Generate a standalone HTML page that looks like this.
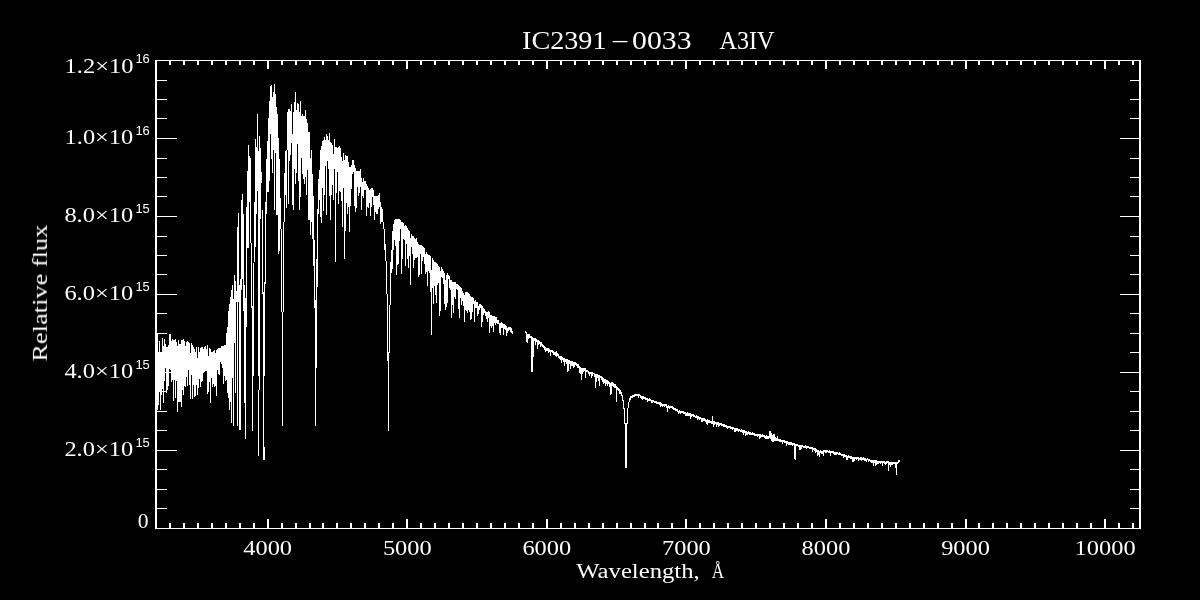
<!DOCTYPE html>
<html><head><meta charset="utf-8"><title>IC2391-0033 A3IV</title>
<style>html,body{margin:0;padding:0;background:#000;overflow:hidden}svg{display:block}text{fill:#fff}</style>
</head><body>
<svg width="1200" height="600" viewBox="0 0 1200 600">
<rect width="1200" height="600" fill="#000"/>
<path d="M155 60h2v469h-2zM1139 60h2v469h-2zM155 60h986v1h-986zM155 528h986v1h-986zM169 61h2v4h-2zM169 523h2v5h-2zM183 61h2v4h-2zM183 523h2v5h-2zM197 61h2v4h-2zM197 523h2v5h-2zM211 61h2v4h-2zM211 523h2v5h-2zM225 61h2v4h-2zM225 523h2v5h-2zM239 61h2v4h-2zM239 523h2v5h-2zM253 61h2v4h-2zM253 523h2v5h-2zM267 61h2v8h-2zM267 519h2v9h-2zM281 61h2v4h-2zM281 523h2v5h-2zM295 61h2v4h-2zM295 523h2v5h-2zM309 61h2v4h-2zM309 523h2v5h-2zM322 61h2v4h-2zM322 523h2v5h-2zM336 61h2v4h-2zM336 523h2v5h-2zM350 61h2v4h-2zM350 523h2v5h-2zM364 61h2v4h-2zM364 523h2v5h-2zM378 61h2v4h-2zM378 523h2v5h-2zM392 61h2v4h-2zM392 523h2v5h-2zM406 61h2v8h-2zM406 519h2v9h-2zM420 61h2v4h-2zM420 523h2v5h-2zM434 61h2v4h-2zM434 523h2v5h-2zM448 61h2v4h-2zM448 523h2v5h-2zM462 61h2v4h-2zM462 523h2v5h-2zM476 61h2v4h-2zM476 523h2v5h-2zM490 61h2v4h-2zM490 523h2v5h-2zM504 61h2v4h-2zM504 523h2v5h-2zM518 61h2v4h-2zM518 523h2v5h-2zM532 61h2v4h-2zM532 523h2v5h-2zM546 61h2v8h-2zM546 519h2v9h-2zM560 61h2v4h-2zM560 523h2v5h-2zM574 61h2v4h-2zM574 523h2v5h-2zM588 61h2v4h-2zM588 523h2v5h-2zM602 61h2v4h-2zM602 523h2v5h-2zM616 61h2v4h-2zM616 523h2v5h-2zM630 61h2v4h-2zM630 523h2v5h-2zM644 61h2v4h-2zM644 523h2v5h-2zM657 61h2v4h-2zM657 523h2v5h-2zM671 61h2v4h-2zM671 523h2v5h-2zM685 61h2v8h-2zM685 519h2v9h-2zM699 61h2v4h-2zM699 523h2v5h-2zM713 61h2v4h-2zM713 523h2v5h-2zM727 61h2v4h-2zM727 523h2v5h-2zM741 61h2v4h-2zM741 523h2v5h-2zM755 61h2v4h-2zM755 523h2v5h-2zM769 61h2v4h-2zM769 523h2v5h-2zM783 61h2v4h-2zM783 523h2v5h-2zM797 61h2v4h-2zM797 523h2v5h-2zM811 61h2v4h-2zM811 523h2v5h-2zM825 61h2v8h-2zM825 519h2v9h-2zM839 61h2v4h-2zM839 523h2v5h-2zM853 61h2v4h-2zM853 523h2v5h-2zM867 61h2v4h-2zM867 523h2v5h-2zM881 61h2v4h-2zM881 523h2v5h-2zM895 61h2v4h-2zM895 523h2v5h-2zM909 61h2v4h-2zM909 523h2v5h-2zM923 61h2v4h-2zM923 523h2v5h-2zM937 61h2v4h-2zM937 523h2v5h-2zM951 61h2v4h-2zM951 523h2v5h-2zM965 61h2v8h-2zM965 519h2v9h-2zM978 61h2v4h-2zM978 523h2v5h-2zM992 61h2v4h-2zM992 523h2v5h-2zM1006 61h2v4h-2zM1006 523h2v5h-2zM1020 61h2v4h-2zM1020 523h2v5h-2zM1034 61h2v4h-2zM1034 523h2v5h-2zM1048 61h2v4h-2zM1048 523h2v5h-2zM1062 61h2v4h-2zM1062 523h2v5h-2zM1076 61h2v4h-2zM1076 523h2v5h-2zM1090 61h2v4h-2zM1090 523h2v5h-2zM1104 61h2v8h-2zM1104 519h2v9h-2zM1118 61h2v4h-2zM1118 523h2v5h-2zM1132 61h2v4h-2zM1132 523h2v5h-2zM157 508h10v1h-10zM1130 508h9v1h-9zM157 489h10v1h-10zM1130 489h9v1h-9zM157 469h10v1h-10zM1130 469h9v1h-9zM157 450h20v1h-20zM1120 450h19v1h-19zM157 430h10v1h-10zM1130 430h9v1h-9zM157 411h10v1h-10zM1130 411h9v1h-9zM157 391h10v1h-10zM1130 391h9v1h-9zM157 372h20v1h-20zM1120 372h19v1h-19zM157 352h10v1h-10zM1130 352h9v1h-9zM157 333h10v1h-10zM1130 333h9v1h-9zM157 313h10v1h-10zM1130 313h9v1h-9zM157 294h20v1h-20zM1120 294h19v1h-19zM157 274h10v1h-10zM1130 274h9v1h-9zM157 255h10v1h-10zM1130 255h9v1h-9zM157 236h10v1h-10zM1130 236h9v1h-9zM157 216h20v1h-20zM1120 216h19v1h-19zM157 196h10v1h-10zM1130 196h9v1h-9zM157 177h10v1h-10zM1130 177h9v1h-9zM157 158h10v1h-10zM1130 158h9v1h-9zM157 138h20v1h-20zM1120 138h19v1h-19zM157 118h10v1h-10zM1130 118h9v1h-9zM157 99h10v1h-10zM1130 99h9v1h-9zM157 80h10v1h-10zM1130 80h9v1h-9z" fill="#fff" shape-rendering="crispEdges"/>
<path d="M258.5 390V456M264.5 447V460M157.5 334V410M158.5 352V405M159.5 341V392M160.5 352V410M161.5 352V395M162.5 338V389M163.5 346V403M164.5 339V381M165.5 344V368M166.5 347V393M167.5 347V390M168.5 345V386M169.5 334V369M170.5 334V370M171.5 341V382M172.5 339V380M173.5 340V401M174.5 340V380M175.5 339V398M176.5 342V381M177.5 346V412M178.5 340V402M179.5 344V402M180.5 344V402M181.5 340V407M182.5 340V390M183.5 339V395M184.5 341V386M185.5 346V387M186.5 342V377M187.5 341V386M188.5 342V370M189.5 343V385M190.5 353V399M191.5 343V375M192.5 345V399M193.5 347V385M194.5 349V397M195.5 352V396M196.5 347V385M197.5 358V395M198.5 347V388M199.5 352V379M200.5 348V387M201.5 347V382M202.5 347V381M203.5 349V373M204.5 347V372M205.5 346V371M206.5 349V371M207.5 345V394M208.5 356V392M209.5 348V382M210.5 349V403M211.5 352V378M212.5 352V387M213.5 351V384M214.5 350V387M215.5 353V386M216.5 350V396M217.5 349V370M218.5 348V374M219.5 348V375M220.5 348V362M221.5 346V364M222.5 346V368M223.5 346V384M224.5 345V376M225.5 345V381M226.5 333V380M227.5 327V393M228.5 311V398M229.5 304V410M230.5 297V402M231.5 290V423M232.5 285V378M233.5 299V426M234.5 275V343M235.5 281V393M236.5 291V302M237.5 227V426M238.5 213V302M239.5 285V430M240.5 279V430M241.5 200V290M242.5 194V279M243.5 214V311M244.5 285V403M245.5 298V439M246.5 207V327M247.5 171V248M248.5 145V248M249.5 156V202M250.5 158V243M251.5 243V308M252.5 306V431M253.5 263V376M254.5 202V262M255.5 139V247M256.5 147V214M257.5 114V191M258.5 151V376M259.5 136V390M260.5 148V219M261.5 172V183M262.5 210V294M263.5 292V460M264.5 282V376M265.5 202V284M266.5 159V214M267.5 141V192M268.5 118V192M269.5 101V181M270.5 86V134M271.5 85V159M272.5 97V173M273.5 92V150M274.5 84V210M275.5 94V153M276.5 107V215M277.5 114V215M278.5 138V254M279.5 159V251M280.5 198V229M281.5 229V312M282.5 312V426M283.5 222V312M284.5 173V222M285.5 151V195M286.5 150V208M287.5 112V150M288.5 109V204M289.5 109V161M290.5 111V155M291.5 104V143M292.5 134V205M293.5 112V210M294.5 102V169M295.5 92V184M296.5 110V173M297.5 103V144M298.5 104V181M299.5 112V210M300.5 101V197M301.5 116V158M302.5 114V174M303.5 116V179M304.5 116V184M305.5 110V177M306.5 119V195M307.5 123V170M308.5 132V220M309.5 132V220M310.5 158V235M311.5 150V222M312.5 174V239M313.5 196V266M314.5 240V308M315.5 300V426M316.5 259V368M317.5 209V287M318.5 179V214M319.5 170V200M320.5 150V217M321.5 146V223M322.5 141V188M323.5 140V211M324.5 137V195M325.5 140V166M326.5 134V215M327.5 136V161M328.5 140V169M329.5 133V196M330.5 142V220M331.5 143V195M332.5 145V185M333.5 154V200M334.5 139V169M335.5 147V262M336.5 147V193M337.5 148V172M338.5 147V204M339.5 146V191M340.5 148V192M341.5 157V201M342.5 161V227M343.5 153V188M344.5 160V259M345.5 155V231M346.5 156V203M347.5 156V214M348.5 162V207M349.5 167V232M350.5 167V206M351.5 165V189M352.5 160V174M353.5 160V172M354.5 165V206M355.5 168V212M356.5 171V208M357.5 171V187M358.5 171V196M359.5 171V193M360.5 169V187M361.5 178V210M362.5 182V196M363.5 178V198M364.5 181V190M365.5 181V190M366.5 184V216M367.5 186V207M368.5 188V208M369.5 190V203M370.5 189V216M371.5 188V207M372.5 188V197M373.5 190V205M374.5 196V220M375.5 196V212M376.5 196V214M377.5 196V214M378.5 195V209M379.5 193V207M380.5 202V224M381.5 207V222M382.5 209V222M383.5 222V229M384.5 229V250M385.5 244V261M386.5 261V294M387.5 294V361M388.5 352V431M389.5 305V353M390.5 262V305M391.5 250V273M392.5 231V269M393.5 224V250M394.5 220V240M395.5 219V246M396.5 219V275M397.5 219V265M398.5 219V264M399.5 219V241M400.5 220V229M401.5 222V274M402.5 222V259M403.5 223V239M404.5 226V240M405.5 225V266M406.5 226V244M407.5 228V259M408.5 230V268M409.5 231V256M410.5 238V285M411.5 234V247M412.5 236V254M413.5 236V268M414.5 238V260M415.5 239V258M416.5 238V258M417.5 242V257M418.5 244V277M419.5 245V275M420.5 245V254M421.5 245V274M422.5 246V261M423.5 247V257M424.5 248V264M425.5 254V274M426.5 252V272M427.5 254V286M428.5 255V271M429.5 255V273M430.5 256V292M431.5 270V335M432.5 258V288M433.5 260V304M434.5 262V286M435.5 262V295M436.5 263V303M437.5 264V285M438.5 266V283M439.5 267V316M440.5 271V311M441.5 267V277M442.5 269V278M443.5 271V284M444.5 273V304M445.5 280V310M446.5 275V307M447.5 273V303M448.5 275V279M449.5 276V288M450.5 280V290M451.5 280V318M452.5 282V305M453.5 282V313M454.5 282V297M455.5 282V299M456.5 284V289M457.5 284V290M458.5 285V309M459.5 286V318M460.5 287V298M461.5 288V305M462.5 291V301M463.5 293V306M464.5 295V322M465.5 292V310M466.5 292V311M467.5 292V313M468.5 293V310M469.5 294V312M470.5 296V320M471.5 297V319M472.5 297V312M473.5 298V304M474.5 301V322M475.5 300V308M476.5 302V308M477.5 302V316M478.5 306V314M479.5 304V310M480.5 304V308M481.5 305V327M482.5 306V322M483.5 308V315M484.5 309V313M485.5 311V316M486.5 312V319M487.5 312V322M488.5 311V318M489.5 312V333M490.5 315V326M491.5 315V328M492.5 316V326M493.5 316V332M494.5 316V323M495.5 317V325M496.5 317V323M497.5 320V324M498.5 320V324M499.5 323V333M500.5 323V335M501.5 322V328M502.5 323V328M503.5 324V335M504.5 324V329M505.5 325V330M506.5 326V336M507.5 328V333M508.5 327V331M509.5 327V330M510.5 327V332M511.5 328V333M512.5 331V334M525.5 331V333M526.5 332V342M527.5 334V343M528.5 334V339M529.5 334V338M530.5 336V338M531.5 336V372M532.5 337V372M533.5 338V357M534.5 338V341M535.5 338V345M536.5 339V342M537.5 340V349M538.5 340V345M539.5 341V344M540.5 342V347M541.5 342V346M542.5 344V347M543.5 345V348M544.5 346V350M545.5 347V352M546.5 348V351M547.5 348V351M548.5 348V353M549.5 349V352M550.5 350V356M551.5 350V352M552.5 350V353M553.5 351V355M554.5 352V355M555.5 352V356M556.5 351V357M557.5 353V356M558.5 354V358M559.5 356V359M560.5 356V360M561.5 356V363M562.5 357V360M563.5 358V362M564.5 358V366M565.5 359V362M566.5 359V364M567.5 359V372M568.5 360V371M569.5 360V364M570.5 361V369M571.5 361V366M572.5 361V366M573.5 362V368M574.5 362V367M575.5 362V365M576.5 363V366M577.5 364V368M578.5 364V368M579.5 366V373M580.5 367V374M581.5 368V380M582.5 368V374M583.5 368V372M584.5 368V371M585.5 368V378M586.5 370V372M587.5 370V372M588.5 371V374M589.5 372V376M590.5 372V374M591.5 372V378M592.5 372V376M593.5 373V374M594.5 373V377M595.5 374V388M596.5 374V382M597.5 374V378M598.5 375V381M599.5 375V386M600.5 376V378M601.5 376V380M602.5 377V382M603.5 378V384M604.5 379V383M605.5 379V386M606.5 380V384M607.5 380V386M608.5 381V384M609.5 382V387M610.5 383V395M611.5 382V394M612.5 382V386M613.5 383V387M614.5 384V388M615.5 384V388M616.5 386V402M617.5 387V390M618.5 388V391M619.5 389V394M620.5 390V394M621.5 392V396M622.5 395V401M623.5 400V409M624.5 408V424M625.5 423V468M626.5 423V468M627.5 408V424M628.5 402V408M629.5 398V402M630.5 396V400M631.5 396V398M632.5 395V398M633.5 395V397M634.5 394V397M635.5 394V396M636.5 394V396M637.5 394V396M638.5 394V398M639.5 394V396M640.5 395V398M641.5 396V399M642.5 396V400M643.5 396V399M644.5 397V399M645.5 397V400M646.5 398V400M647.5 398V402M648.5 399V401M649.5 398V401M650.5 399V401M651.5 400V403M652.5 400V403M653.5 400V402M654.5 401V403M655.5 401V403M656.5 401V404M657.5 402V404M658.5 402V404M659.5 402V405M660.5 402V407M661.5 403V406M662.5 404V407M663.5 404V406M664.5 404V407M665.5 404V406M666.5 404V408M667.5 406V412M668.5 405V408M669.5 406V409M670.5 406V408M671.5 406V408M672.5 406V409M673.5 407V410M674.5 408V410M675.5 408V411M676.5 409V411M677.5 409V412M678.5 411V414M679.5 410V413M680.5 411V414M681.5 411V413M682.5 411V413M683.5 411V414M684.5 412V414M685.5 412V416M686.5 413V416M687.5 412V416M688.5 413V416M689.5 413V416M690.5 413V419M691.5 414V417M692.5 414V416M693.5 414V417M694.5 415V417M695.5 416V418M696.5 415V418M697.5 416V420M698.5 416V419M699.5 417V420M700.5 417V419M701.5 418V422M702.5 418V422M703.5 418V421M704.5 418V421M705.5 419V422M706.5 420V424M707.5 419V425M708.5 420V423M709.5 420V423M710.5 421V423M711.5 421V424M712.5 416V424M713.5 421V427M714.5 421V425M715.5 422V424M716.5 422V427M717.5 422V425M718.5 422V427M719.5 423V426M720.5 423V425M721.5 423V426M722.5 424V426M723.5 424V427M724.5 424V427M725.5 425V427M726.5 425V428M727.5 426V429M728.5 426V428M729.5 426V428M730.5 426V429M731.5 427V429M732.5 427V430M733.5 427V429M734.5 428V432M735.5 428V432M736.5 428V431M737.5 428V431M738.5 429V432M739.5 429V431M740.5 430V432M741.5 429V432M742.5 430V433M743.5 430V435M744.5 430V433M745.5 431V436M746.5 431V435M747.5 432V435M748.5 431V434M749.5 432V435M750.5 432V435M751.5 433V435M752.5 432V435M753.5 433V435M754.5 433V436M755.5 434V436M756.5 434V436M757.5 434V437M758.5 434V436M759.5 434V439M760.5 434V438M761.5 435V437M762.5 434V437M763.5 435V437M764.5 435V438M765.5 436V439M766.5 435V439M767.5 436V439M768.5 436V439M769.5 431V438M770.5 431V439M771.5 433V441M772.5 435V442M773.5 434V442M774.5 434V441M775.5 437V441M776.5 438V441M777.5 436V441M778.5 439V441M779.5 439V442M780.5 439V442M781.5 440V442M782.5 440V444M783.5 440V442M784.5 440V443M785.5 441V443M786.5 441V446M787.5 441V444M788.5 442V445M789.5 442V445M790.5 442V445M791.5 442V445M792.5 443V446M793.5 443V445M794.5 443V459M795.5 444V460M796.5 444V446M797.5 444V446M798.5 445V447M799.5 445V450M800.5 445V450M801.5 445V449M802.5 445V447M803.5 446V448M804.5 446V448M805.5 445V448M806.5 446V449M807.5 446V448M808.5 446V448M809.5 447V449M810.5 447V449M811.5 447V449M812.5 447V452M813.5 448V450M814.5 448V451M815.5 448V453M816.5 449V452M817.5 450V456M818.5 450V455M819.5 451V457M820.5 450V453M821.5 451V454M822.5 451V454M823.5 450V456M824.5 450V452M825.5 450V453M826.5 450V453M827.5 450V452M828.5 451V453M829.5 450V453M830.5 451V456M831.5 451V453M832.5 451V453M833.5 451V454M834.5 452V455M835.5 452V455M836.5 452V455M837.5 452V454M838.5 453V455M839.5 452V455M840.5 453V455M841.5 454V456M842.5 454V456M843.5 454V458M844.5 454V457M845.5 455V457M846.5 455V460M847.5 456V460M848.5 455V458M849.5 456V458M850.5 456V459M851.5 456V459M852.5 457V462M853.5 457V462M854.5 457V461M855.5 457V459M856.5 457V460M857.5 457V459M858.5 457V461M859.5 458V460M860.5 457V460M861.5 457V461M862.5 458V460M863.5 457V460M864.5 458V461M865.5 458V461M866.5 459V462M867.5 458V460M868.5 459V462M869.5 459V461M870.5 460V462M871.5 460V463M872.5 460V463M873.5 460V466M874.5 460V463M875.5 460V466M876.5 460V465M877.5 461V464M878.5 461V464M879.5 461V463M880.5 461V464M881.5 461V463M882.5 461V466M883.5 461V463M884.5 461V464M885.5 462V465M886.5 461V464M887.5 461V463M888.5 461V471M889.5 462V465M890.5 462V467M891.5 462V465M892.5 462V465M893.5 462V464M894.5 462V464M895.5 462V468M896.5 462V475M897.5 462V464M898.5 460V463M899.5 460V462" stroke="#fff" stroke-width="1" fill="none" shape-rendering="crispEdges"/>
<g opacity="0.999">
<text x="243.3" y="555" font-size="21" textLength="48.75" lengthAdjust="spacingAndGlyphs" font-family="Liberation Serif, serif">4000</text>
<text x="382.9" y="555" font-size="21" textLength="48.75" lengthAdjust="spacingAndGlyphs" font-family="Liberation Serif, serif">5000</text>
<text x="522.4" y="555" font-size="21" textLength="48.75" lengthAdjust="spacingAndGlyphs" font-family="Liberation Serif, serif">6000</text>
<text x="662.0" y="555" font-size="21" textLength="48.75" lengthAdjust="spacingAndGlyphs" font-family="Liberation Serif, serif">7000</text>
<text x="801.6" y="555" font-size="21" textLength="48.75" lengthAdjust="spacingAndGlyphs" font-family="Liberation Serif, serif">8000</text>
<text x="941.2" y="555" font-size="21" textLength="48.75" lengthAdjust="spacingAndGlyphs" font-family="Liberation Serif, serif">9000</text>
<text x="1074.6" y="555" font-size="21" textLength="61" lengthAdjust="spacingAndGlyphs" font-family="Liberation Serif, serif">10000</text>
<text x="64.4" y="456.3" font-size="20.5" textLength="68.8" lengthAdjust="spacingAndGlyphs" font-family="Liberation Serif, serif">2.0×10</text>
<text x="135.4" y="447.4" font-size="12.5" textLength="14.4" lengthAdjust="spacingAndGlyphs" font-family="Liberation Sans, sans-serif">15</text>
<text x="64.4" y="378.3" font-size="20.5" textLength="68.8" lengthAdjust="spacingAndGlyphs" font-family="Liberation Serif, serif">4.0×10</text>
<text x="135.4" y="369.4" font-size="12.5" textLength="14.4" lengthAdjust="spacingAndGlyphs" font-family="Liberation Sans, sans-serif">15</text>
<text x="64.4" y="300.3" font-size="20.5" textLength="68.8" lengthAdjust="spacingAndGlyphs" font-family="Liberation Serif, serif">6.0×10</text>
<text x="135.4" y="291.4" font-size="12.5" textLength="14.4" lengthAdjust="spacingAndGlyphs" font-family="Liberation Sans, sans-serif">15</text>
<text x="64.4" y="222.3" font-size="20.5" textLength="68.8" lengthAdjust="spacingAndGlyphs" font-family="Liberation Serif, serif">8.0×10</text>
<text x="135.4" y="213.4" font-size="12.5" textLength="14.4" lengthAdjust="spacingAndGlyphs" font-family="Liberation Sans, sans-serif">15</text>
<text x="64.6" y="144.3" font-size="20.5" textLength="68.6" lengthAdjust="spacingAndGlyphs" font-family="Liberation Serif, serif">1.0×10</text>
<text x="135.4" y="135.4" font-size="12.5" textLength="14.4" lengthAdjust="spacingAndGlyphs" font-family="Liberation Sans, sans-serif">16</text>
<text x="64.6" y="73.3" font-size="20.5" textLength="68.9" lengthAdjust="spacingAndGlyphs" font-family="Liberation Serif, serif">1.2×10</text>
<text x="135.4" y="62.5" font-size="12.5" textLength="14.4" lengthAdjust="spacingAndGlyphs" font-family="Liberation Sans, sans-serif">16</text>
<text x="137.8" y="528" font-size="20.5" textLength="10.8" lengthAdjust="spacingAndGlyphs" font-family="Liberation Serif, serif">0</text>
<text x="522" y="49.3" font-size="25.6" textLength="84.5" lengthAdjust="spacingAndGlyphs" font-family="Liberation Serif, serif">IC2391</text>
<text transform="translate(610.6 46.0) scale(2.15 0.6)" font-size="26.5" font-family="Liberation Serif, serif">-</text>
<text y="49.3" font-size="25.6" font-family="Liberation Serif, serif"><tspan x="632" textLength="59.5" lengthAdjust="spacingAndGlyphs">0033</tspan> <tspan x="719.5" textLength="55" lengthAdjust="spacingAndGlyphs">A3IV</tspan></text>
<text y="577.5" font-size="20.5" font-family="Liberation Serif, serif"><tspan x="576.3" textLength="123.4" lengthAdjust="spacingAndGlyphs">Wavelength,</tspan> <tspan x="711.8" textLength="12.4" lengthAdjust="spacingAndGlyphs">Å</tspan></text>
<text transform="translate(46.9 361.6) rotate(-90)" font-size="20.5" textLength="137" lengthAdjust="spacingAndGlyphs" font-family="Liberation Serif, serif">Relative flux</text>
</g>
</svg>
</body></html>
